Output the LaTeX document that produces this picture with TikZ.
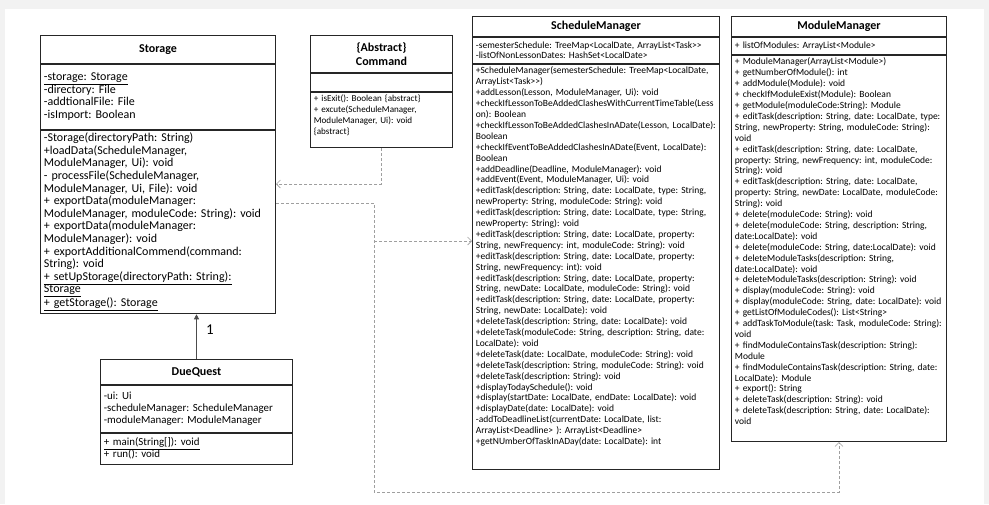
\documentclass[tikz,border=0pt]{standalone}
\usepackage{fontspec}
\setmainfont{Carlito}
\usetikzlibrary{arrows.meta, positioning}
\AtBeginDocument{\frenchspacing}

\newcommand{\stfont}{\fontsize{12}{12.6}\selectfont}
\newcommand{\smfont}{\fontsize{9.5}{10.9}\selectfont}
\newcommand{\cmfont}{\fontsize{9.1}{11}\selectfont}
\newcommand{\dqfont}{\fontsize{10.9}{12}\selectfont}
\newcommand{\ttlfont}{\fontsize{12}{14}\selectfont\bfseries}
\newcommand{\gap}[1]{\rule[-#1]{0pt}{#1}}

\tikzset{
  umlbox/.style={rectangle, draw=black!85, line width=0.8pt, fill=white,
                 inner xsep=3.5pt, inner ysep=3pt},
  umlhead/.style={umlbox, align=center, font=\ttlfont, text width=#1},
  umlpart/.style={umlbox, align=left, text width=#1},
  dep/.style={draw=gray!75, densely dashed, line width=0.6pt,
              -{Straight Barb[length=4pt,width=8pt]}},
  assoc/.style={draw=gray!60!black, line width=0.8pt,
                -{Triangle[length=5pt,width=5pt]}},
}

\begin{document}
\begin{tikzpicture}[x=1pt, y=-1pt]
  \useasboundingbox (0,0) rectangle (989,504);
  \fill[gray!10] (0,0) rectangle (989,504);
  \fill[white] (5,9) rectangle (984,504);

  % Storage
  \node[umlhead=228.2pt, minimum height=28pt, anchor=north west] (st-head)
    at (40,35) {Storage};
  \node[umlpart=228.2pt, font=\stfont, minimum height=65pt,
        below=0pt of st-head] (st-attr)
    {\underline{-storage: Storage}\\
     -directory: File\\
     -addtionalFile: File\\
     -isImport: Boolean};
  \node[umlpart=228.2pt, font=\stfont, below=0pt of st-attr] (st-meth)
    {-Storage(directoryPath: String)\\
     +loadData(ScheduleManager,\\
     ModuleManager, Ui): void\\
     - processFile(ScheduleManager,\\
     ModuleManager, Ui, File): void\\
     + exportData(moduleManager:\\
     ModuleManager, moduleCode: String): void\\
     + exportData(moduleManager:\\
     ModuleManager): void\\
     + exportAdditionalCommend(command:\\
     String): void\\
     \underline{+ setUpStorage(directoryPath: String):}\\
     \underline{Storage}\\
     \underline{+ getStorage(): Storage}};

  % Command
  \node[umlhead=135.2pt, minimum height=37pt, anchor=north west] (cmd-head)
    at (310,35) {\{Abstract\}\\Command};
  \node[umlpart=135.2pt, minimum height=18pt, below=0pt of cmd-head]
    (cmd-attr) {};
  \node[umlpart=135.2pt, font=\cmfont, below=0pt of cmd-attr] (cmd-meth)
    {+ isExit(): Boolean \{abstract\}\\
     + excute(ScheduleManager,\\
     ModuleManager, Ui): void\\
     \{abstract\}\gap{10pt}};

  % ScheduleManager
  \node[umlhead=240.2pt, minimum height=20pt, anchor=north west] (sm-head)
    at (472,16) {ScheduleManager};
  \node[umlpart=240.2pt, font=\smfont, minimum height=26pt,
        below=0pt of sm-head] (sm-attr)
    {-semesterSchedule: TreeMap<LocalDate, ArrayList<Task>{}>\\
     -listOfNonLessonDates: HashSet<LocalDate>};
  \node[umlpart=240.2pt, font=\smfont, below=0pt of sm-attr] (sm-meth)
    {+ScheduleManager(semesterSchedule: TreeMap<LocalDate,\\
     ArrayList<Task>{}>)\\
     +addLesson(Lesson, ModuleManager, Ui): void\\
     +checkIfLessonToBeAddedClashesWithCurrentTimeTable(Less\\
     on): Boolean\\
     +checkIfLessonToBeAddedClashesInADate(Lesson, LocalDate):\\
     Boolean\\
     +checkIfEventToBeAddedClashesInADate(Event, LocalDate):\\
     Boolean\\
     +addDeadline(Deadline, ModuleManager): void\\
     +addEvent(Event, ModuleManager, Ui): void\\
     +editTask(description: String, date: LocalDate, type: String,\\
     newProperty: String, moduleCode: String): void\\
     +editTask(description: String, date: LocalDate, type: String,\\
     newProperty: String): void\\
     +editTask(description: String, date: LocalDate, property:\\
     String, newFrequency: int, moduleCode: String): void\\
     +editTask(description: String, date: LocalDate, property:\\
     String, newFrequency: int): void\\
     +editTask(description: String, date: LocalDate, property:\\
     String, newDate: LocalDate, moduleCode: String): void\\
     +editTask(description: String, date: LocalDate, property:\\
     String, newDate: LocalDate): void\\
     +deleteTask(description: String, date: LocalDate): void\\
     +deleteTask(moduleCode: String, description: String, date:\\
     LocalDate): void\\
     +deleteTask(date: LocalDate, moduleCode: String): void\\
     +deleteTask(description: String, moduleCode: String): void\\
     +deleteTask(description: String): void\\
     +displayTodaySchedule(): void\\
     +display(startDate: LocalDate, endDate: LocalDate): void\\
     +displayDate(date: LocalDate): void\\
     -addToDeadlineList(currentDate: LocalDate, list:\\
     ArrayList<Deadline> ): ArrayList<Deadline>\\
     +getNUmberOfTaskInADay(date: LocalDate): int\gap{22pt}};

  % ModuleManager
  \node[umlhead=208.2pt, minimum height=20pt, anchor=north west] (mm-head)
    at (731,16) {ModuleManager};
  \node[umlpart=208.2pt, font=\smfont, minimum height=17pt,
        below=0pt of mm-head] (mm-attr)
    {+ listOfModules: ArrayList<Module>};
  \node[umlpart=208.2pt, font=\smfont, below=0pt of mm-attr] (mm-meth)
    {+ ModuleManager(ArrayList<Module>)\\
     + getNumberOfModule(): int\\
     + addModule(Module): void\\
     + checkIfModuleExist(Module): Boolean\\
     + getModule(moduleCode:String): Module\\
     + editTask(description: String, date: LocalDate, type:\\
     String, newProperty: String, moduleCode: String):\\
     void\\
     + editTask(description: String, date: LocalDate,\\
     property: String, newFrequency: int, moduleCode:\\
     String): void\\
     + editTask(description: String, date: LocalDate,\\
     property: String, newDate: LocalDate, moduleCode:\\
     String): void\\
     + delete(moduleCode: String): void\\
     + delete(moduleCode: String, description: String,\\
     date:LocalDate): void\\
     + delete(moduleCode: String, date:LocalDate): void\\
     + deleteModuleTasks(description: String,\\
     date:LocalDate): void\\
     + deleteModuleTasks(description: String): void\\
     + display(moduleCode: String): void\\
     + display(moduleCode: String, date: LocalDate): void\\
     + getListOfModuleCodes(): List<String>\\
     + addTaskToModule(task: Task, moduleCode: String):\\
     void\\
     + findModuleContainsTask(description: String):\\
     Module\\
     + findModuleContainsTask(description: String, date:\\
     LocalDate): Module\\
     + export(): String\\
     + deleteTask(description: String): void\\
     + deleteTask(description: String, date: LocalDate):\\
     void\gap{14pt}};

  % DueQuest
  \node[umlhead=185.2pt, minimum height=25pt, anchor=north west] (dq-head)
    at (100,359) {DueQuest};
  \node[umlpart=185.2pt, font=\dqfont, minimum height=47pt,
        below=0pt of dq-head] (dq-attr)
    {-ui: Ui\\
     -scheduleManager: ScheduleManager\\
     -moduleManager: ModuleManager};
  \node[umlpart=185.2pt, font=\dqfont, minimum height=31pt,
        below=0pt of dq-attr] (dq-meth)
    {\underline{+ main(String[]): void}\\
     + run(): void};

  % Connectors
  \coordinate (st-cmdin) at ([yshift=-149pt]st-head.north east);
  \coordinate (st-out) at ([yshift=-168pt]st-head.north east);
  \coordinate (dep-sm) at (374,241);
  \coordinate (dep-bot) at (374,492);

  \draw[assoc] (dq-head.north) -- (st-meth.south -| dq-head.north)
    node[pos=0.65, right=6pt, font=\fontsize{15}{15}\selectfont] {1};
  \draw[dep] (cmd-meth.south) |- (st-cmdin);
  \draw[dep] (st-out) -| (dep-bot) -| (mm-meth.south);
  \draw[dep] (dep-sm) -- (dep-sm -| sm-meth.west);
\end{tikzpicture}
\end{document}
